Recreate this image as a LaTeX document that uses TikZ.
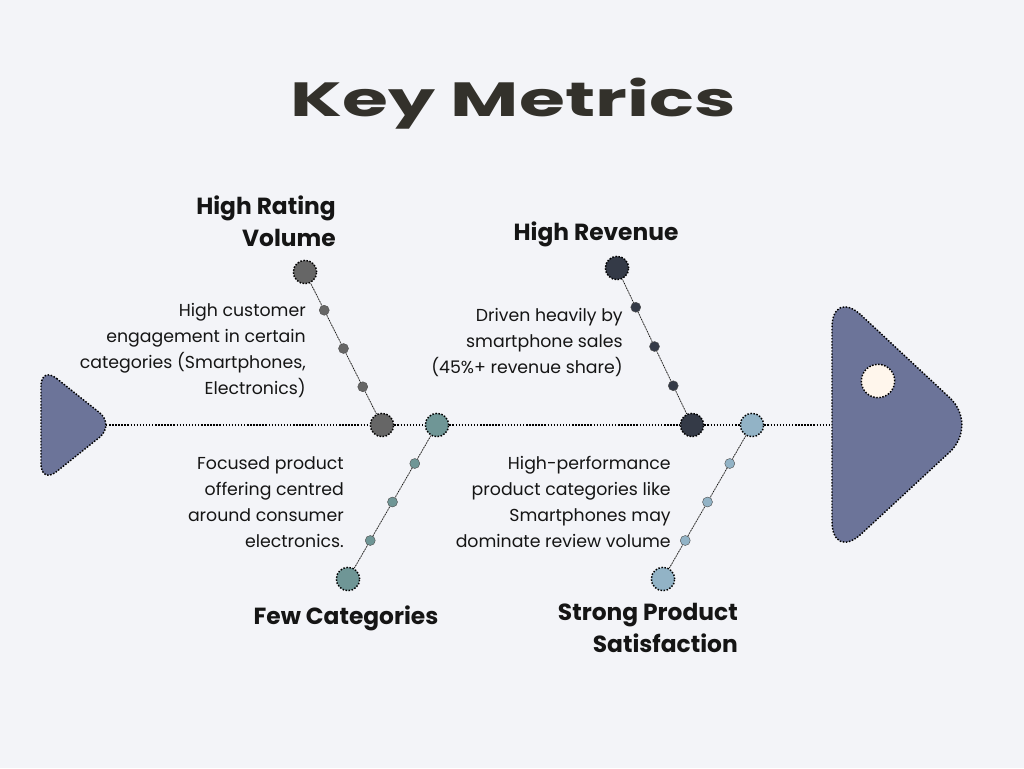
\documentclass[tikz,border=0pt]{standalone}
\usepackage{fontspec}
\usetikzlibrary{calc}
\setmainfont{Poppins}
\newfontfamily\titlefont{Poppins}
\definecolor{bgc}{HTML}{F3F4F8}
\definecolor{fish}{HTML}{6C7499}
\definecolor{eyec}{HTML}{FFF6EC}
\definecolor{boneA}{HTML}{666666}
\definecolor{boneB}{HTML}{6F9696}
\definecolor{boneC}{HTML}{343A47}
\definecolor{boneD}{HTML}{92B3C6}
\definecolor{titlec}{HTML}{33312B}
\definecolor{txt}{HTML}{151515}
\pgfdeclarelayer{paper}
\pgfdeclarelayer{lines}
\pgfsetlayers{paper,lines,main}
\tikzset{
  dotrim/.style={draw=black, line width=1.1pt, dash pattern=on 1.1pt off 1.2pt},
  bigdot/.style={circle, inner sep=0pt, minimum size=17.5pt, dotrim},
  smalldot/.style={circle, inner sep=0pt, minimum size=7.5pt, draw=black!70, line width=0.3pt},
  boneline/.style={draw=black!45, line width=0.6pt},
  bonedots/.style={draw=black, line width=0.5pt, dash pattern=on 0.6pt off 1.4pt},
  label/.style={font=\bfseries\fontsize{17.5pt}{24pt}\selectfont, text=txt, inner sep=0pt, align=right},
  body/.style={font=\fontsize{13pt}{19.5pt}\selectfont, text=txt, inner sep=0pt, align=right},
}
\begin{document}
\begin{tikzpicture}[x=0.75pt, y=-0.75pt]
  \begin{pgfonlayer}{paper}
    \fill[bgc] (0,0) rectangle (1024,768);
  \end{pgfonlayer}
  \useasboundingbox (0,0) rectangle (1024,768);

  % title
  \node[text=titlec, inner sep=0pt] (title) at (513,104)
    {\scalebox{1.55}[1]{\titlefont\bfseries\fontsize{36pt}{40pt}\selectfont Key Metrics}};

  % tail and head of the fish
  \draw[dotrim, fill=fish, rounded corners=15pt] (41,366) -- (115,425) -- (41,484) -- cycle;
  \draw[dotrim, fill=fish, rounded corners=30pt] (832,288) -- (979,425) -- (832,561) -- cycle;
  \node[bigdot, fill=eyec, minimum size=25pt] (eye) at (878,381) {};

  \coordinate (tailtip) at (106,425);
  \coordinate (headback) at (832,425);

  % joints on the spine
  \node[bigdot, fill=boneA] (sA) at (382,425) {};
  \node[bigdot, fill=boneB] (sB) at (437,425) {};
  \node[bigdot, fill=boneC] (sC) at (692,425) {};
  \node[bigdot, fill=boneD] (sD) at (752,425) {};

  % bone ends
  \node[bigdot, fill=boneA] (tA) at (305,272) {};
  \node[bigdot, fill=boneB] (tB) at (348,579) {};
  \node[bigdot, fill=boneC] (tC) at (617,268) {};
  \node[bigdot, fill=boneD] (tD) at (663,579) {};

  % bones with their small beads
  \foreach \s/\t/\c in {sA/tA/boneA, sB/tB/boneB, sC/tC/boneC, sD/tD/boneD}{
    \begin{pgfonlayer}{lines}
      \draw[boneline] (\s) -- (\t);
      \draw[bonedots] (\s) -- (\t);
    \end{pgfonlayer}
    \node[smalldot, fill=\c] (\t-1) at ($(\t)!0.25!(\s)$) {};
    \node[smalldot, fill=\c] (\t-2) at ($(\t)!0.5!(\s)$) {};
    \node[smalldot, fill=\c] (\t-3) at ($(\t)!0.75!(\s)$) {};
  }

  % spine
  \begin{pgfonlayer}{lines}
    \draw[dotrim] (tailtip) -- (sA);
    \draw[dotrim] (sA) -- (sB);
    \draw[dotrim] (sB) -- (sC);
    \draw[dotrim] (sC) -- (sD);
    \draw[dotrim] (sD) -- (headback);
  \end{pgfonlayer}

  % headings
  \node[label, anchor=east] (hA) at (336,221) {High Rating\\Volume};
  \node[label, anchor=base] (hC) at (596,240) {High Revenue};
  \node[label, anchor=base] (hB) at (346,624) {Few Categories};
  \node[label, anchor=east] (hD) at (738,628) {Strong Product\\Satisfaction};

  % descriptions
  \node[body, anchor=east] (dA) at (306,351) {High customer\\engagement in certain\\categories (Smartphones,\\Electronics)};
  \node[body, anchor=east] (dB) at (344,502) {Focused product\\offering centred\\around consumer\\electronics.};
  \node[body, anchor=east] (dC) at (623,343) {Driven heavily by\\smartphone sales\\(45\%+ revenue share)};
  \node[body, anchor=east] (dD) at (671,502) {High-performance\\product categories like\\Smartphones may\\dominate review volume};
\end{tikzpicture}
\end{document}
